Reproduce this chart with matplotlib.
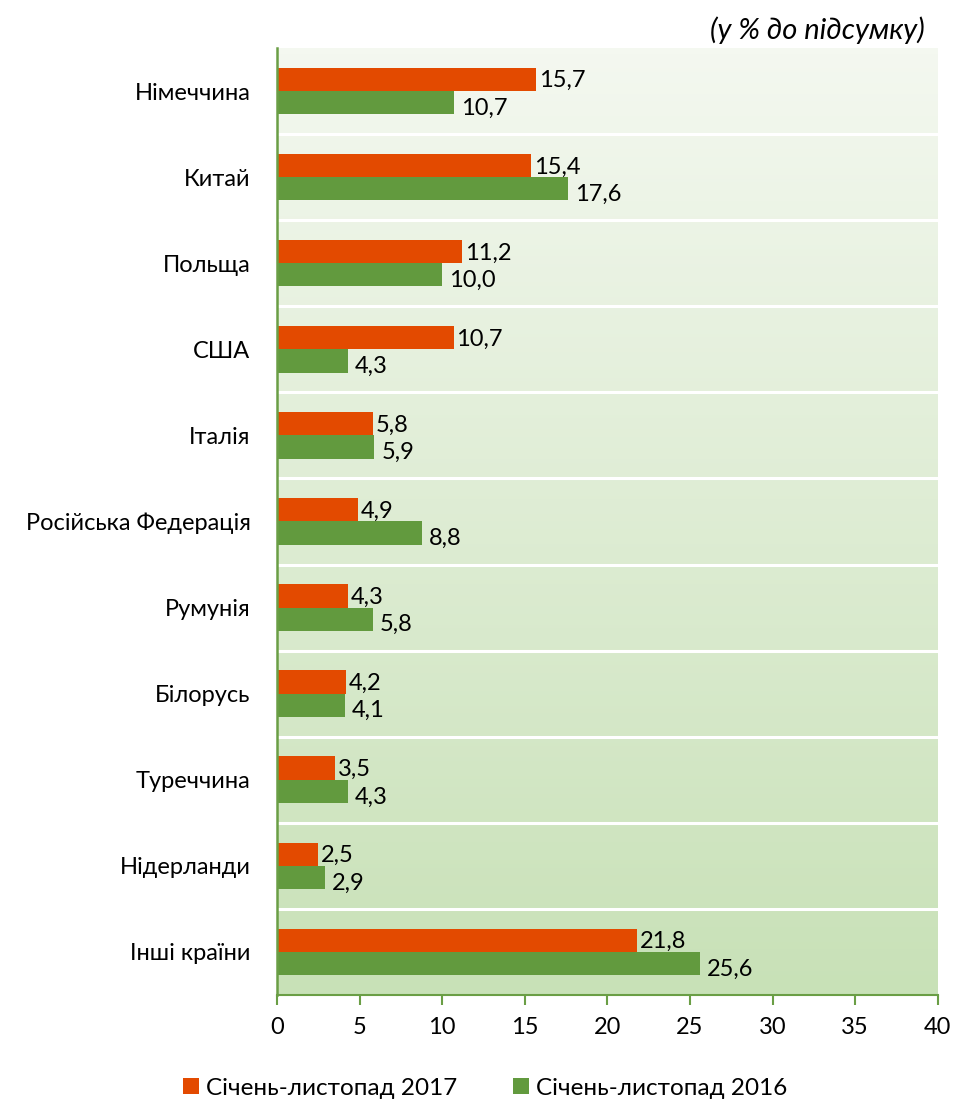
import numpy as np
import matplotlib
matplotlib.use("Agg")
import matplotlib.pyplot as plt
from matplotlib.colors import LinearSegmentedColormap

plt.rcParams['font.family'] = ['Lato', 'DejaVu Sans']

categories = ["Німеччина", "Китай", "Польща", "США", "Італія", "Російська Федерація",
              "Румунія", "Білорусь", "Туреччина", "Нідерланди", "Інші країни"]
values_2017 = [15.7, 15.4, 11.2, 10.7, 5.8, 4.9, 4.3, 4.2, 3.5, 2.5, 21.8]
values_2016 = [10.7, 17.6, 10.0, 4.3, 5.9, 8.8, 5.8, 4.1, 4.3, 2.9, 25.6]
series_names = ["Січень-листопад 2017", "Січень-листопад 2016"]
xticks = [0, 5, 10, 15, 20, 25, 30, 35, 40]

c_orange = "#E34A00"
c_green = "#629A3E"
c_axis = "#6A9E45"

fig = plt.figure(figsize=(9.55, 11.06), dpi=100)
ax = fig.add_axes([0.290, 0.1004, 0.692, 0.8562])

n = len(categories)
ax.set_xlim(0, 40)
ax.set_ylim(n - 0.5, -0.5)

# gradient background
cmap = LinearSegmentedColormap.from_list("bg", ["#F4F8F0", "#C8E1B7"])
grad = np.linspace(0, 1, 256).reshape(-1, 1)
ax.imshow(grad, cmap=cmap, aspect="auto", extent=[0, 40, n - 0.5, -0.5],
          zorder=0, interpolation="bilinear")

# separators
for i in range(n - 1):
    ax.axhline(i + 0.5, color="white", lw=2.2, zorder=1)

y = np.arange(n)
h = 0.27
b1 = ax.barh(y - h / 2, values_2017, height=h, color=c_orange, zorder=2,
             label=series_names[0])
b2 = ax.barh(y + h / 2, values_2016, height=h, color=c_green, zorder=2,
             label=series_names[1])

def fmt(v):
    return f"{v:.1f}".replace(".", ",")

for yi, v in zip(y, values_2017):
    ax.annotate(fmt(v), (v, yi - h / 2), xytext=(2, -1), textcoords="offset points",
                va="center", ha="left", fontsize=17, color="black", zorder=3)
for yi, v in zip(y, values_2016):
    ax.annotate(fmt(v), (v, yi + h / 2), xytext=(5, -4), textcoords="offset points",
                va="center", ha="left", fontsize=17, color="black", zorder=3)

ax.set_yticks(y)
ax.set_yticklabels(categories, fontsize=17)
ax.tick_params(axis="y", length=0, pad=19)
ax.set_xticks(xticks)
ax.set_xticklabels([str(t) for t in xticks], fontsize=17)
ax.tick_params(axis="x", direction="out", length=7, width=1.5, color=c_axis, pad=9)

for s in ["top", "right"]:
    ax.spines[s].set_visible(False)
ax.spines["left"].set_color(c_axis)
ax.spines["left"].set_linewidth(1.8)
ax.spines["bottom"].set_color(c_axis)
ax.spines["bottom"].set_linewidth(1.5)
ax.spines["left"].set_zorder(4)

fig.text(0.968, 0.973, "(у % до підсумку)", ha="right", va="center",
         fontsize=21, style="italic")

leg = fig.legend(handles=[b1, b2], labels=series_names, loc="center",
                 bbox_to_anchor=(0.508, 0.016), ncol=2, frameon=False,
                 fontsize=17.5, handlelength=0.65, handleheight=0.65,
                 handletextpad=0.3, columnspacing=2.3)

fig.savefig("out.png", dpi=100)
